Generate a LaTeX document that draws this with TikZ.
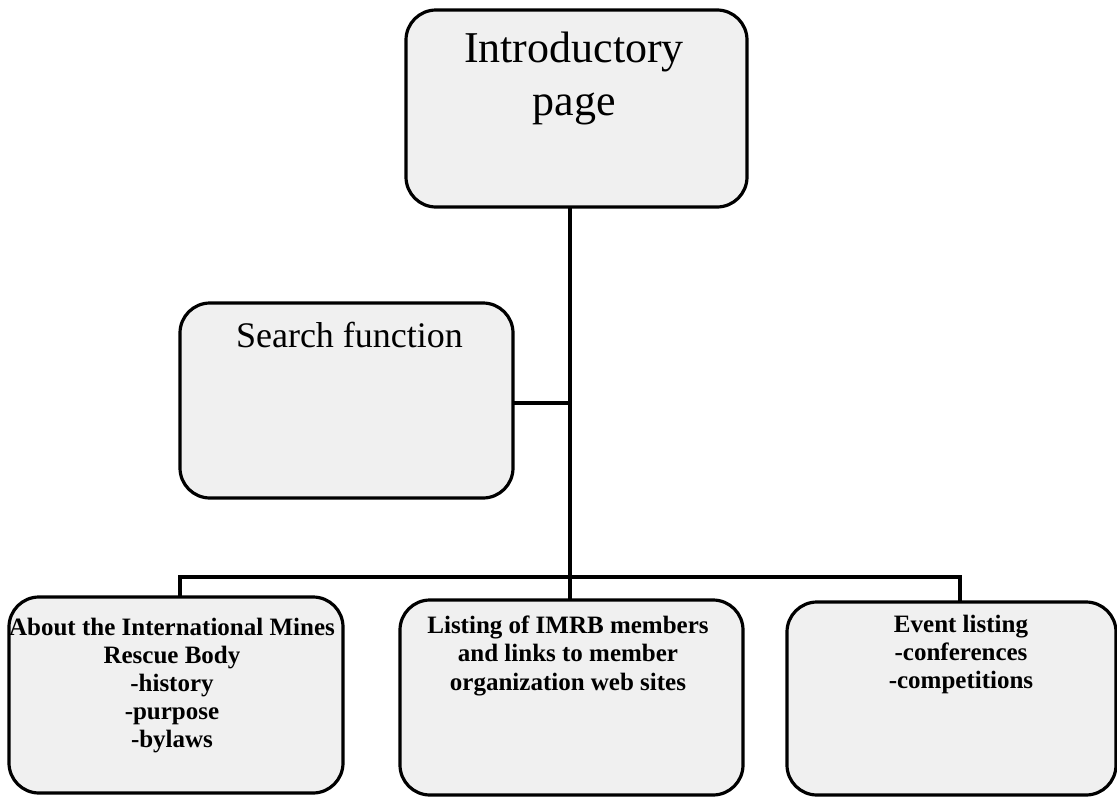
\documentclass[tikz,border=0pt]{standalone}
\usepackage{fontspec}
\setmainfont{Liberation Serif}
\begin{document}
\begin{tikzpicture}[x=1pt,y=-1pt,
  box/.style={draw=black, line width=3.2pt, rounded corners=30pt, fill=black!6,
    inner sep=0pt, minimum width=#1},
  lbl/.style={anchor=base, align=center, inner sep=0pt, text=black},
  conn/.style={line width=3.5pt, line join=miter, line cap=rect}]
\useasboundingbox (0,0) rectangle (1117,798);
% boxes
\node[box=341pt, minimum height=197pt] (intro) at (576.5,108.5) {};
\node[box=333pt, minimum height=195pt] (search) at (346.5,400.5) {};
\node[box=334pt, minimum height=196pt] (about) at (176,695) {};
\node[box=343pt, minimum height=195pt] (listing) at (571.5,697.5) {};
\node[box=329pt, minimum height=193pt] (event) at (951.5,698.5) {};
% texts (anchor base = baseline of the last line)
\node[lbl, font=\fontsize{44}{53}\selectfont] (introT) at (574,115) {Introductory\\page};
\node[lbl, font=\fontsize{36}{43}\selectfont] (searchT) at (349.5,347) {Search function};
\node[lbl, font=\fontsize{25}{28}\selectfont\bfseries] (aboutT) at (172,747) {About the International Mines\\Rescue Body\\-history\\-purpose\\-bylaws};
\node[lbl, font=\fontsize{25}{28.5}\selectfont\bfseries] (listingT) at (568,690) {Listing of IMRB members\\and links to member\\organization web sites};
\node[lbl, font=\fontsize{25}{28}\selectfont\bfseries] (eventT) at (961,688) {Event listing\\-conferences\\-competitions};
% junctions
\coordinate (jM) at (570,577);
\coordinate (jL) at (180,577);
\coordinate (jR) at (960,577);
\coordinate (jS) at (570,403);
% connectors
\draw[conn] (intro.south -| jM) -- (jM) -- (listing.north -| jM);
\draw[conn] (search.east |- jS) -- (jS);
\draw[conn] (about.north -| jL) -- (jL) -- (jR) -- (event.north -| jR);
\end{tikzpicture}
\end{document}
